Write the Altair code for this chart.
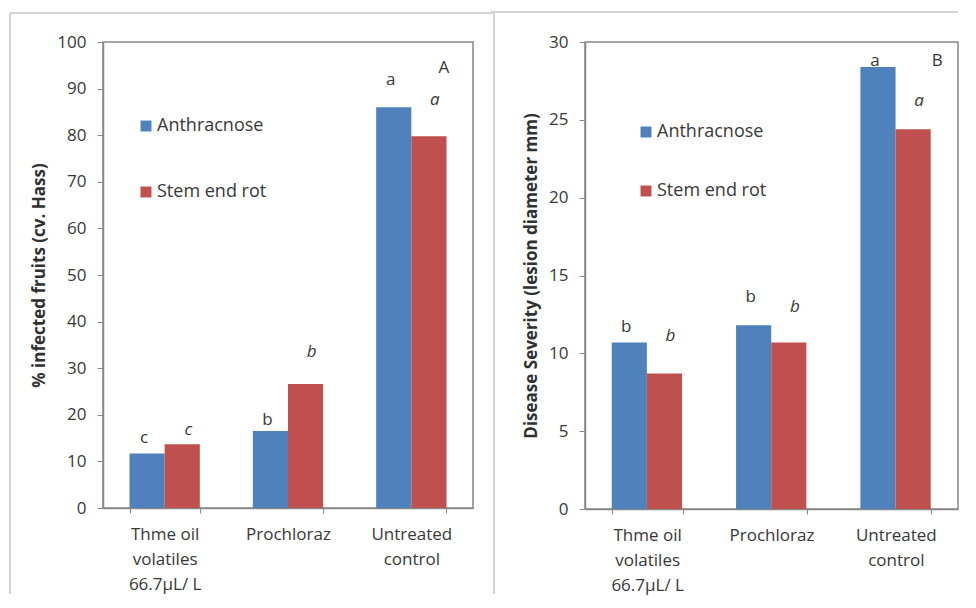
import altair as alt
import pandas as pd

categories = ["Thme oil|volatiles|66.7µL/ L", "Prochloraz", "Untreated|control"]
series = ["Anthracnose", "Stem end rot"]

infected_anthracnose = [11.7, 16.5, 86.0]
infected_stem_end_rot = [13.7, 26.6, 79.8]
severity_anthracnose = [10.7, 11.8, 28.4]
severity_stem_end_rot = [8.7, 10.7, 24.4]

infected_letters_anth = ["c", "b", "a"]
infected_letters_ser = ["c", "b", "a"]
infected_letter_y_anth = [15.0, 18.9, 91.8]
infected_letter_y_ser = [16.7, 33.5, 87.6]

severity_letters_anth = ["b", "b", "a"]
severity_letters_ser = ["b", "b", "a"]
severity_letter_y_anth = [11.7, 13.6, 28.8]
severity_letter_y_ser = [11.1, 13.0, 26.2]

panel_tags = ["A", "B"]
panel_tag_y = [94.4, 28.8]

colors = ["#4F81BD", "#C0504D"]
FONT = "Open Sans"
TXT = "#383838"
FRAME = "#d4d4d4"


def bars_df(a, s):
    rows = []
    for c, va, vs in zip(categories, a, s):
        rows.append({"cat": c, "series": series[0], "value": va})
        rows.append({"cat": c, "series": series[1], "value": vs})
    return pd.DataFrame(rows)


def labels_df(la, ls, ya, ys):
    rows = []
    for c, l1, l2, y1, y2 in zip(categories, la, ls, ya, ys):
        rows.append({"cat": c, "series": series[0], "letter": l1, "pos": y1})
        rows.append({"cat": c, "series": series[1], "letter": l2, "pos": y2})
    return pd.DataFrame(rows)


def panel(a, s, la, ls, ya, ys, tag, tag_y, ymax, ystep, ytitle, w, h, lx, ly, lpad, tag_dx,
          frame_layers):
    bdf = bars_df(a, s)
    ldf = labels_df(la, ls, ya, ys)
    tdf = pd.DataFrame([{"cat": categories[2], "series": series[1], "letter": tag, "pos": tag_y}])

    xenc = alt.X("cat:N", sort=categories, title=None,
                 scale=alt.Scale(paddingInner=0.43, paddingOuter=0.215),
                 axis=alt.Axis(labelExpr="split(datum.label, '|')", labelAngle=0,
                               labelFontSize=17, labelColor=TXT, labelFont=FONT,
                               labelPadding=13, labelLineHeight=25,
                               tickBand="extent", tickColor="#888", tickSize=5,
                               domainColor="#888", domainWidth=1.5))
    yscale = alt.Scale(domain=[0, ymax], nice=False)
    yaxis = alt.Axis(values=list(range(0, ymax + 1, ystep)), labelFontSize=17,
                     labelColor=TXT, labelFont=FONT, grid=False,
                     tickColor="#888", tickSize=6, domainColor="#888", domainWidth=1.5,
                     title=ytitle, titleFontSize=17, titleFont=FONT, titleFontWeight="bold",
                     titleColor="#303030", titlePadding=8, labelPadding=11)

    bars = alt.Chart(bdf).mark_bar().encode(
        x=xenc,
        xOffset=alt.XOffset("series:N", sort=series),
        y=alt.Y("value:Q", scale=yscale, axis=yaxis),
        color=alt.Color("series:N", sort=series,
                        scale=alt.Scale(domain=series, range=colors),
                        legend=alt.Legend(title=None, orient="none", legendX=lx, legendY=ly,
                                          symbolType="square", symbolSize=120,
                                          symbolStrokeWidth=0, labelOffset=2,
                                          labelFontSize=18, labelFont=FONT,
                                          labelColor=TXT, rowPadding=lpad)),
    )

    up = alt.Chart(ldf).transform_filter(alt.datum.series == series[0]).mark_text(
        fontSize=17, font=FONT, color=TXT, baseline="middle", dx=-3
    ).encode(x=alt.X("cat:N", sort=categories), xOffset=alt.XOffset("series:N", sort=series),
             y=alt.Y("pos:Q", scale=yscale), text="letter:N")
    it = alt.Chart(ldf).transform_filter(alt.datum.series == series[1]).mark_text(
        fontSize=17, font=FONT, color=TXT, baseline="middle", dx=6, fontStyle="italic"
    ).encode(x=alt.X("cat:N", sort=categories), xOffset=alt.XOffset("series:N", sort=series),
             y=alt.Y("pos:Q", scale=yscale), text="letter:N")
    tg = alt.Chart(tdf).mark_text(
        fontSize=17, font=FONT, color=TXT, baseline="middle", dx=tag_dx
    ).encode(x=alt.X("cat:N", sort=categories), xOffset=alt.XOffset("series:N", sort=series),
             y=alt.Y("pos:Q", scale=yscale), text="letter:N")

    return alt.layer(*frame_layers, bars, up, it, tg).properties(width=w, height=h)


# light picture frame around the figure (decoration only)
frame_src = pd.DataFrame({"k": [0]})
left_frame = [
    alt.Chart(frame_src).mark_rule(color=FRAME, strokeWidth=2).encode(
        x=alt.value(-93), x2=alt.value(391), y=alt.value(-29)),
    alt.Chart(frame_src).mark_rule(color=FRAME, strokeWidth=2).encode(
        x=alt.value(-93), y=alt.value(-29), y2=alt.value(552)),
    alt.Chart(frame_src).mark_rule(color=FRAME, strokeWidth=2).encode(
        x=alt.value(391), y=alt.value(-29), y2=alt.value(552)),
]
right_frame = [
    alt.Chart(frame_src).mark_rule(color=FRAME, strokeWidth=2).encode(
        x=alt.value(-94), x2=alt.value(373), y=alt.value(-30)),
]

left = panel(infected_anthracnose, infected_stem_end_rot,
             infected_letters_anth, infected_letters_ser,
             infected_letter_y_anth, infected_letter_y_ser,
             panel_tags[0], panel_tag_y[0], 100, 10, "% infected fruits (cv. Hass)",
             370, 466, 34, 75, 48, 15, left_frame)
right = panel(severity_anthracnose, severity_stem_end_rot,
              severity_letters_anth, severity_letters_ser,
              severity_letter_y_anth, severity_letter_y_ser,
              panel_tags[1], panel_tag_y[1], 30, 5, "Disease Severity (lesion diameter mm)",
              373, 467, 52, 81, 41, 24, right_frame)

chart = alt.hconcat(left, right, spacing=-7).resolve_legend(color="independent").resolve_scale(
    y="independent").properties(
    padding={"left": 0, "top": 2, "right": 0, "bottom": 0}, background="white"
).configure_view(stroke="#888", strokeWidth=1.5)

chart.save("out.html", embed_options={"renderer": "svg", "actions": False})
